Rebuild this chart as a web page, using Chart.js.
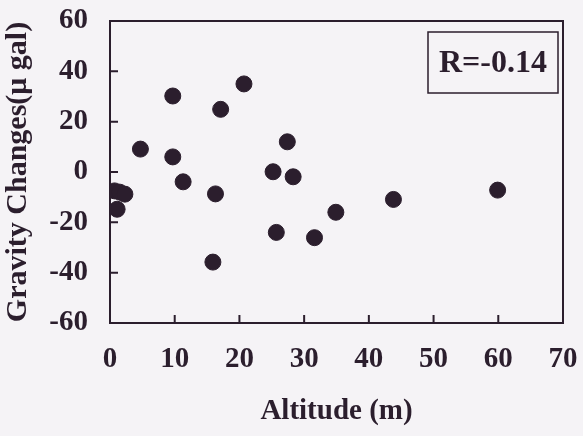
<!DOCTYPE html>
<html>
<head>
<meta charset="utf-8">
<script src="https://cdn.jsdelivr.net/npm/chart.js@4.4.0/dist/chart.umd.min.js"></script>
<style>
  html, body { margin: 0; padding: 0; background: #f5f3f6; }
  #wrap { width: 583px; height: 436px; }
</style>
</head>
<body>
<div id="wrap"><canvas id="chart" width="583" height="436"></canvas></div>
<script>
// Altitude (m) and gravity change (µgal)
const altitude = [0.7, 1.5, 2.3, 1.1, 4.7, 9.7, 9.7, 11.3, 16.3, 15.9, 17.1, 20.7, 25.2, 25.7, 27.4, 28.3, 31.6, 34.9, 43.8, 59.9];
const gravityChange = [-7.5, -8.0, -8.8, -14.8, 9.1, 30.2, 6.0, -3.9, -8.7, -35.8, 24.9, 35.0, 0.1, -24.0, 12.0, -1.9, -26.1, -16.0, -10.9, -7.2];
const xTicks = [0, 10, 20, 30, 40, 50, 60, 70];
const yTicks = [-60, -40, -20, 0, 20, 40, 60];
const rLabel = 'R=-0.14';

const ink = '#2b1e2d';
const serif = '"Liberation Serif", "DejaVu Serif", serif';

const points = altitude.map((a, i) => ({ x: a, y: gravityChange[i] }));

// frame, inward tick marks and the R box
const framePlugin = {
    id: 'frame',
    afterDraw(chart) {
        const ctx = chart.ctx;
        const area = chart.chartArea;
        const xs = chart.scales.x, ys = chart.scales.y;
        ctx.save();
        ctx.strokeStyle = ink;
        ctx.lineWidth = 2;
        ctx.strokeRect(area.left, area.top, area.right - area.left, area.bottom - area.top);
        ctx.beginPath();
        xTicks.forEach(v => {
            const px = xs.getPixelForValue(v);
            ctx.moveTo(px, area.bottom);
            ctx.lineTo(px, area.bottom - 8);
        });
        yTicks.forEach(v => {
            const py = ys.getPixelForValue(v);
            ctx.moveTo(area.left, py);
            ctx.lineTo(area.left + 8, py);
        });
        ctx.stroke();

        // correlation box
        ctx.lineWidth = 1.5;
        ctx.strokeRect(428, 32, 130, 61);
        ctx.fillStyle = ink;
        ctx.font = 'bold 32px ' + serif;
        ctx.textAlign = 'center';
        ctx.textBaseline = 'middle';
        ctx.fillText(rLabel, 493, 64);
        ctx.restore();
    }
};

new Chart(document.getElementById('chart'), {
    type: 'scatter',
    data: {
        datasets: [{
            data: points,
            backgroundColor: ink,
            borderColor: ink,
            pointRadius: 8,
            pointHoverRadius: 8
        }]
    },
    options: {
        responsive: false,
        animation: false,
        events: [],
        layout: { padding: { top: 21, right: 20, left: 0, bottom: 0 } },
        plugins: { legend: { display: false }, tooltip: { enabled: false } },
        scales: {
            x: {
                type: 'linear',
                min: 0,
                max: 70,
                afterFit(scale) {
                    scale.height = 113;
                    scale.paddingLeft = 0;
                    scale.paddingRight = 0;
                },
                afterBuildTicks(scale) { scale.ticks = xTicks.map(v => ({ value: v })); },
                grid: { display: false, drawTicks: false },
                border: { display: false },
                ticks: {
                    color: ink,
                    padding: 19,
                    maxRotation: 0,
                    font: { family: serif, size: 29, weight: 'bold' }
                },
                title: {
                    display: true,
                    text: 'Altitude (m)',
                    color: ink,
                    padding: { top: 0, bottom: 7 },
                    font: { family: serif, size: 29, weight: 'bold' }
                }
            },
            y: {
                type: 'linear',
                min: -60,
                max: 60,
                afterFit(scale) {
                    scale.width = 110;
                    scale.paddingTop = 0;
                    scale.paddingBottom = 0;
                },
                afterBuildTicks(scale) { scale.ticks = yTicks.map(v => ({ value: v })); },
                grid: { display: false, drawTicks: false },
                border: { display: false },
                ticks: {
                    color: ink,
                    padding: 22,
                    font: { family: serif, size: 29, weight: 'bold' }
                },
                title: {
                    display: true,
                    text: 'Gravity Changes(\u03bc gal)',
                    color: ink,
                    padding: { top: 0, bottom: 0 },
                    font: { family: serif, size: 30, weight: 'bold' }
                }
            }
        }
    },
    plugins: [framePlugin]
});
</script>
</body>
</html>
